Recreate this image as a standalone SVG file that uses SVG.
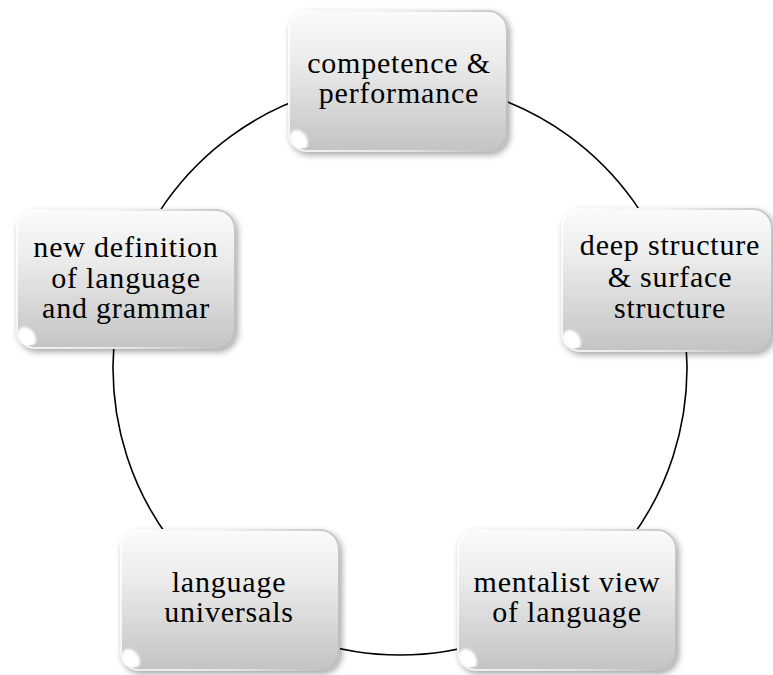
<svg xmlns="http://www.w3.org/2000/svg" width="773" height="675" viewBox="0 0 773 675">
<defs>
  <linearGradient id="fillG" x1="0" y1="0" x2="0" y2="1">
    <stop offset="0" stop-color="#fbfbfb"/>
    <stop offset="0.35" stop-color="#ececec"/>
    <stop offset="1" stop-color="#c3c3c3"/>
  </linearGradient>
  <linearGradient id="rimG" x1="0" y1="0" x2="1" y2="0">
    <stop offset="0" stop-color="#ffffff"/>
    <stop offset="0.5" stop-color="#eeeeee"/>
    <stop offset="1" stop-color="#b8b8b8"/>
  </linearGradient>
  <filter id="shadow" x="-10%" y="-10%" width="125%" height="130%">
    <feDropShadow dx="2" dy="3" stdDeviation="3" flood-color="#000" flood-opacity="0.35"/>
  </filter>
  <filter id="soft" x="-50%" y="-50%" width="200%" height="200%">
    <feGaussianBlur stdDeviation="1.2"/>
  </filter>
  <clipPath id="c1"><rect x="288" y="10" width="220" height="142" rx="20"/></clipPath>
  <clipPath id="c2"><rect x="561" y="208" width="212" height="144" rx="20"/></clipPath>
  <clipPath id="c3"><rect x="457" y="529" width="220" height="142" rx="20"/></clipPath>
  <clipPath id="c4"><rect x="120" y="529" width="220" height="142" rx="20"/></clipPath>
  <clipPath id="c5"><rect x="16" y="209" width="220" height="140" rx="20"/></clipPath>
</defs>
<style>
  .box { fill: url(#fillG); filter: url(#shadow); }
  .rim { fill: none; stroke: url(#rimG); stroke-width: 2; opacity: 0.8; }
  .hl { fill: #ffffff; filter: url(#soft); }
  .lbl { font-family: "Liberation Serif", "Times New Roman", serif; font-size: 30px; fill: #000; text-anchor: middle; letter-spacing: 0.8px; }
  .conn { fill: none; stroke: #000; stroke-width: 1.6; }
</style>

<g id="connectors">
  <path class="conn" d="M 400 81 A 287 287 0 0 1 672.95 279.31"/>
  <path class="conn" d="M 672.95 279.31 A 287 287 0 0 1 568.70 600.19"/>
  <path class="conn" d="M 568.70 600.19 A 287 287 0 0 1 231.30 600.19"/>
  <path class="conn" d="M 231.30 600.19 A 287 287 0 0 1 127.05 279.31"/>
  <path class="conn" d="M 127.05 279.31 A 287 287 0 0 1 400 81"/>
</g>

<g id="node-competence">
  <rect class="box" x="288" y="10" width="220" height="142" rx="20"/>
  <rect class="rim" x="289" y="11" width="218" height="140" rx="19"/>
  <ellipse class="hl" clip-path="url(#c1)" cx="299" cy="140" rx="8" ry="11" transform="rotate(-35 299 140)"/>
  <text class="lbl" x="399" y="73">competence &amp;</text>
  <text class="lbl" x="399" y="103">performance</text>
</g>

<g id="node-deep">
  <rect class="box" x="561" y="208" width="212" height="144" rx="20"/>
  <rect class="rim" x="562" y="209" width="210" height="142" rx="19"/>
  <ellipse class="hl" clip-path="url(#c2)" cx="572" cy="340" rx="8" ry="11" transform="rotate(-35 572 340)"/>
  <text class="lbl" x="670" y="255">deep structure</text>
  <text class="lbl" x="670" y="287">&amp; surface</text>
  <text class="lbl" x="670" y="318">structure</text>
</g>

<g id="node-mentalist">
  <rect class="box" x="457" y="529" width="220" height="142" rx="20"/>
  <rect class="rim" x="458" y="530" width="218" height="140" rx="19"/>
  <ellipse class="hl" clip-path="url(#c3)" cx="468" cy="659" rx="8" ry="11" transform="rotate(-35 468 659)"/>
  <text class="lbl" x="567" y="592">mentalist view</text>
  <text class="lbl" x="567" y="622">of language</text>
</g>

<g id="node-universals">
  <rect class="box" x="120" y="529" width="220" height="142" rx="20"/>
  <rect class="rim" x="121" y="530" width="218" height="140" rx="19"/>
  <ellipse class="hl" clip-path="url(#c4)" cx="131" cy="659" rx="8" ry="11" transform="rotate(-35 131 659)"/>
  <text class="lbl" x="229" y="592">language</text>
  <text class="lbl" x="229" y="622">universals</text>
</g>

<g id="node-definition">
  <rect class="box" x="16" y="209" width="220" height="140" rx="20"/>
  <rect class="rim" x="17" y="210" width="218" height="138" rx="19"/>
  <ellipse class="hl" clip-path="url(#c5)" cx="27" cy="337" rx="8" ry="11" transform="rotate(-35 27 337)"/>
  <text class="lbl" x="126" y="257">new definition</text>
  <text class="lbl" x="126" y="288">of language</text>
  <text class="lbl" x="126" y="318">and grammar</text>
</g>
</svg>
